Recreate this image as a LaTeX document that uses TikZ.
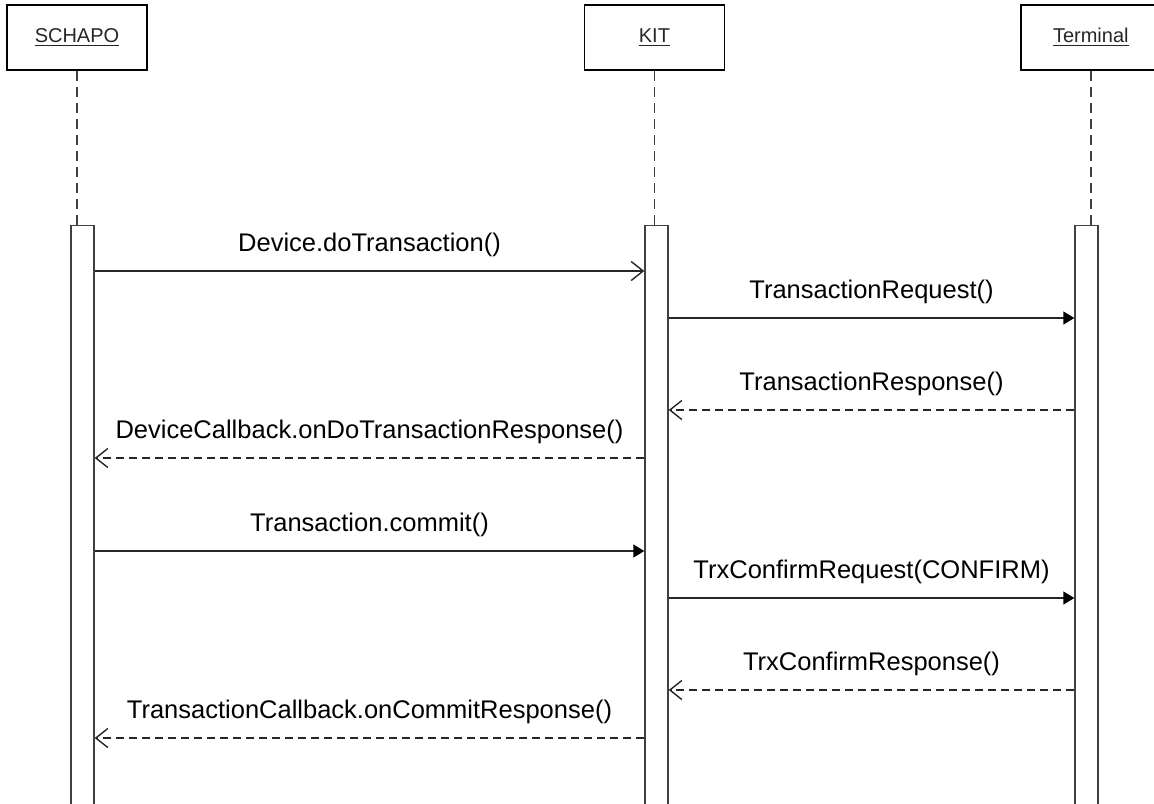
\documentclass[tikz,border=0pt]{standalone}
\usepackage{fontspec}
\setmainfont{Liberation Sans}
\usetikzlibrary{positioning}
\usetikzlibrary{arrows.meta}

\newcommand{\msgfont}{\fontsize{12.75}{15}\selectfont}

\begin{document}
\begin{tikzpicture}[
            x = 0.5pt, y = -0.5pt, % one unit = one pixel
            line width = 0.7pt, % line style
            black!85
            ]

        \tikzstyle{object}=[
            draw = black,
            minimum width = 70pt,
            minimum height = 32.5pt,
            font = \fontsize{10}{12}\selectfont
        ]
        \tikzstyle{activation}=[
            draw = black!75,
            fill = white,
            minimum width = 11.5pt,
            minimum height = 340pt,
            anchor = north
        ]
        \tikzstyle{lifeline}=[black!75, dash pattern = on 5pt off 3pt]
        \tikzstyle{callopen}=[-{Straight Barb[length=6pt,width=9.5pt]}]
        \tikzstyle{call}=[-{Triangle[length=5.5pt,width=6.5pt,black]}]
        \tikzstyle{reply}=[dash pattern = on 4pt off 2.5pt, -{Straight Barb[length=6pt,width=9.5pt]}]
        \tikzstyle{msglabel}=[above = 3.5pt, font = \msgfont, text = black]

        \clip (0,0) rectangle (1154,803);

	% objects
	\node[object] (schapo) at (77,37.5) {\underline{SCHAPO}};
	\node[object] (kit) [right =218pt of schapo] {\underline{KIT}};
	\node[object] (terminal) [right =147.5pt of kit] {\underline{Terminal}};

        % activations
         \node[activation] (actS) at (82.5,225) {};
         \node[activation] (actK) at (656.5,225) {};
         \node[activation] (actT) at (1086.5,225) {};

        % lifelines
         \draw[lifeline] (schapo.south) -- (schapo.south |- actS.north);
         \draw[lifeline] (kit.south) -- (kit.south |- actK.north);
         \draw[lifeline] (terminal.south) -- (terminal.south |- actT.north);

        % message rows
         \coordinate (m1) at (0,271);
         \coordinate (m2) at (0,318);
         \coordinate (m3) at (0,410);
         \coordinate (m4) at (0,458);
         \coordinate (m5) at (0,551);
         \coordinate (m6) at (0,598);
         \coordinate (m7) at (0,690);
         \coordinate (m8) at (0,738);

        % messages
         \draw[callopen] (actS.east |- m1) -- node[msglabel] {Device.doTransaction()} (actK.west |- m1);
         \draw[call] (actK.east |- m2) -- node[msglabel] {TransactionRequest()} (actT.west |- m2);
         \draw[reply] (actT.west |- m3) -- node[msglabel] {TransactionResponse()} (actK.east |- m3);
         \draw[reply] (actK.west |- m4) -- node[msglabel] {DeviceCallback.onDoTransactionResponse()} (actS.east |- m4);

         \draw[call] (actS.east |- m5) -- node[msglabel] {Transaction.commit()} (actK.west |- m5);
         \draw[call] (actK.east |- m6) -- node[msglabel] {TrxConfirmRequest(CONFIRM)} (actT.west |- m6);
         \draw[reply] (actT.west |- m7) -- node[msglabel] {TrxConfirmResponse()} (actK.east |- m7);
         \draw[reply] (actK.west |- m8) -- node[msglabel] {TransactionCallback.onCommitResponse()} (actS.east |- m8);

  \end{tikzpicture}
\end{document}
